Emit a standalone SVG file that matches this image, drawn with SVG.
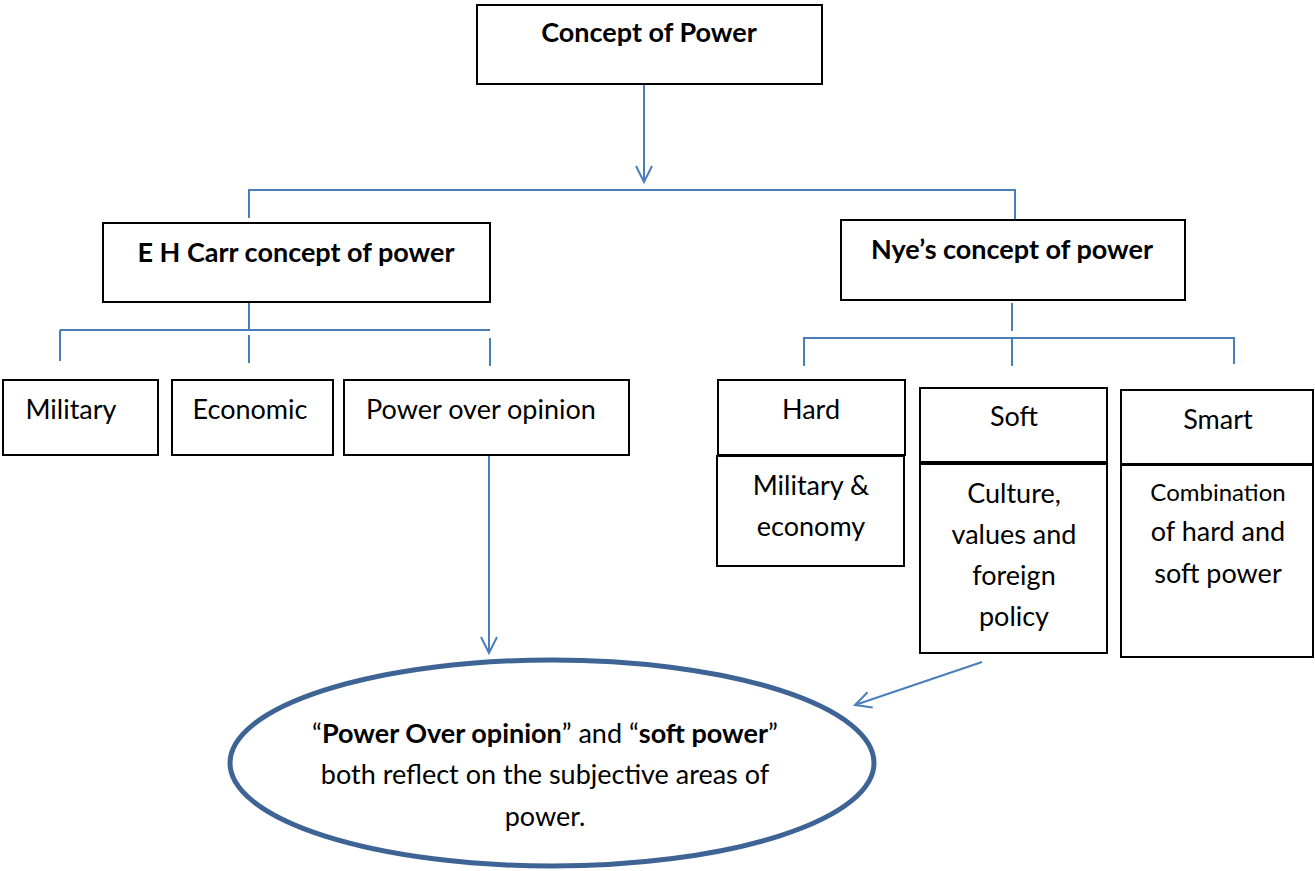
<svg xmlns="http://www.w3.org/2000/svg" width="1315" height="871" viewBox="0 0 1315 871">
  <style>
    .box { fill: #ffffff; stroke: #000000; stroke-width: 2; }
    .conn { fill: none; stroke: #4a7ebb; stroke-width: 2; }
    .t { font-family: Lato, "Open Sans", "Liberation Sans", sans-serif; font-size: 27px; fill: #000000; text-anchor: middle; }
    .b { font-weight: bold; }
    .sm { font-size: 24px; }
  </style>
  <defs>
    <marker id="arrow" viewBox="0 0 20 20" refX="18" refY="10" markerWidth="20" markerHeight="20" markerUnits="userSpaceOnUse" orient="auto">
      <path d="M2,2 L18,10 L2,18" fill="none" stroke="#4a7ebb" stroke-width="2"/>
    </marker>
  </defs>

  <rect width="1315" height="871" fill="#ffffff"/>

  <!-- connectors -->
  <g id="connectors">
    <line class="conn" x1="644" y1="84" x2="644" y2="182" marker-end="url(#arrow)"/>
    <polyline class="conn" points="249,218 249,190 1015,190 1015,219"/>
    <line class="conn" x1="249" y1="302" x2="249" y2="330"/>
    <line class="conn" x1="60" y1="330" x2="490" y2="330"/>
    <line class="conn" x1="60" y1="330" x2="60" y2="361"/>
    <line class="conn" x1="249" y1="335" x2="249" y2="363"/>
    <line class="conn" x1="490" y1="338" x2="490" y2="366"/>
    <line class="conn" x1="489" y1="455" x2="489" y2="653" marker-end="url(#arrow)"/>
    <line class="conn" x1="1012" y1="303" x2="1012" y2="331"/>
    <polyline class="conn" points="804,366 804,338 1234,338 1234,364"/>
    <line class="conn" x1="1012" y1="338" x2="1012" y2="366"/>
    <line class="conn" x1="982" y1="662" x2="855" y2="705" marker-end="url(#arrow)"/>
  </g>

  <g id="concept-of-power">
    <rect class="box" x="477" y="5" width="345" height="79"/>
    <text class="t b" x="649" y="42">Concept of Power</text>
  </g>

  <g id="carr">
    <rect class="box" x="103" y="223" width="387" height="79"/>
    <text class="t b" x="296" y="262">E H Carr concept of power</text>
  </g>

  <g id="nye">
    <rect class="box" x="841" y="220" width="344" height="80"/>
    <text class="t b" x="1012" y="259">Nye’s concept of power</text>
  </g>

  <g id="military">
    <rect class="box" x="3" y="380" width="155" height="75"/>
    <text class="t" x="71" y="419">Military</text>
  </g>

  <g id="economic">
    <rect class="box" x="172" y="380" width="161" height="75"/>
    <text class="t" x="250" y="419">Economic</text>
  </g>

  <g id="power-over-opinion">
    <rect class="box" x="344" y="380" width="285" height="75"/>
    <text class="t" x="481" y="419">Power over opinion</text>
  </g>

  <g id="hard">
    <rect class="box" x="718" y="380" width="187" height="75"/>
    <text class="t" x="811" y="419">Hard</text>
    <rect class="box" x="717" y="456" width="187" height="110"/>
    <text class="t" x="811" y="495">Military &amp;</text>
    <text class="t" x="811" y="536">economy</text>
  </g>

  <g id="soft">
    <rect class="box" x="920" y="388" width="187" height="74"/>
    <text class="t" x="1014" y="426">Soft</text>
    <rect class="box" x="920" y="464" width="187" height="189"/>
    <text class="t" x="1014" y="503">Culture,</text>
    <text class="t" x="1014" y="544">values and</text>
    <text class="t" x="1014" y="585">foreign</text>
    <text class="t" x="1014" y="626">policy</text>
  </g>

  <g id="smart">
    <rect class="box" x="1121" y="390" width="192" height="74"/>
    <text class="t" x="1218" y="429">Smart</text>
    <rect class="box" x="1121" y="465" width="192" height="192"/>
    <text class="t sm" x="1218" y="501">Combination</text>
    <text class="t" x="1218" y="541">of hard and</text>
    <text class="t" x="1218" y="583">soft power</text>
  </g>

  <g id="summary">
    <ellipse cx="552" cy="763" rx="322" ry="103" fill="#ffffff" stroke="#3e6496" stroke-width="5"/>
    <text class="t" x="545" y="743">“<tspan class="b">Power Over opinion</tspan>” and “<tspan class="b">soft power</tspan>”</text>
    <text class="t" x="545" y="784">both reflect on the subjective areas of</text>
    <text class="t" x="545" y="826">power.</text>
  </g>
</svg>
